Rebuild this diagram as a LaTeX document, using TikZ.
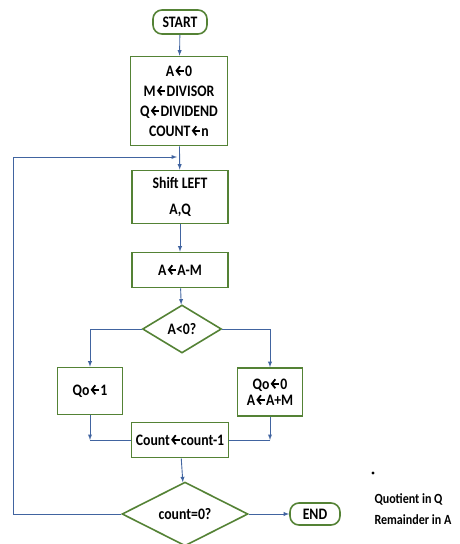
\documentclass[tikz,border=0pt]{standalone}
\usepackage{fontspec}
\setmainfont{Carlito}[FakeStretch=0.86]
\usetikzlibrary{shapes.geometric,arrows.meta}
\definecolor{boxgreen}{RGB}{84,130,53}
\definecolor{flowblue}{RGB}{65,100,160}
\newcommand{\getarrow}{\kern0.3pt\tikz[baseline=-0.75ex]\draw[line width=1.8pt,{Straight Barb[length=3.5pt,width=9pt]}-] (0,0) -- (8.5pt,0);\kern0.3pt}
\begin{document}
\begin{tikzpicture}[x=1pt,y=-1pt,>=latex,
  font=\bfseries\fontsize{16}{19}\selectfont,
  procbox/.style={draw=boxgreen,line width=1.6pt,shape=rectangle,align=center,inner sep=2pt},
  testbox/.style={draw=boxgreen,line width=1.6pt,shape=diamond,inner sep=0pt},
  termbox/.style={draw=boxgreen,line width=1.6pt,rounded corners=9pt,inner sep=2pt},
  flow/.style={flowblue,line width=0.9pt}]
  \useasboundingbox (0,0) rectangle (459,544);
  \node[termbox,minimum width=54pt,minimum height=24pt] (Start) at (180,22) {START};
  \node[procbox,minimum width=97pt,minimum height=89pt] (Init) at (179,101)
    {A\getarrow0\\[1pt]M\getarrow DIVISOR\\[1pt]Q\getarrow DIVIDEND\\[1pt]COUNT\getarrow n};
  \node[procbox,minimum width=96pt,minimum height=53pt] (Shift) at (180,197) {Shift LEFT\\[7pt]A,Q};
  \node[procbox,minimum width=96pt,minimum height=35pt] (Sub) at (180,270) {A\getarrow A-M};
  \node[testbox,minimum width=79pt,minimum height=48pt] (Test) at (182,329) {A<0?};
  \node[procbox,minimum width=65pt,minimum height=47pt] (Qone) at (90,391) {Qo\getarrow 1};
  \node[procbox,minimum width=65pt,minimum height=48pt] (Qzero) at (270,392) {Qo\getarrow 0\\[-3pt]A\getarrow A+M};
  \node[procbox,minimum width=97pt,minimum height=35pt] (Cnt) at (180,440) {Count\getarrow count-1};
  \node[testbox,minimum width=126pt,minimum height=60pt] (Done) at (185,514) {count=0?};
  \node[termbox,minimum width=50pt,minimum height=22pt] (End) at (315,514) {END};
  \node[circle,fill=black,inner sep=1.2pt] (Dot) at (373,473) {};
  \node[anchor=west,align=left,font=\bfseries\fontsize{14}{16}\selectfont] (Note) at (371,509)
    {Quotient in Q\\[5pt]Remainder in A};
  % main line
  \coordinate (Merge) at (177,157);
  \coordinate (LoopL) at (13,157);
  \draw[flow,->] (Start) -- (Init);
  \draw[flow,->] (Init) -- (Shift);
  \draw[flow,->] (Shift) -- (Sub);
  \draw[flow,->] (Sub) -- (Test);
  % branches
  \draw[flow,->] (Test) -| (Qone);
  \draw[flow,->] (Test) -| (Qzero);
  \coordinate (JoinL) at (Qone |- Cnt);
  \coordinate (JoinR) at (Qzero |- Cnt);
  \draw[flow,->] (Qone) -- (JoinL);
  \draw[flow] (JoinL) -- (Cnt);
  \draw[flow,->] (Qzero) -- (JoinR);
  \draw[flow] (JoinR) -- (Cnt);
  \draw[flow,->] (Cnt) -- (Done);
  \draw[flow,->] (Done) -- (End);
  % loop back
  \draw[flow,->] (Done) -| (LoopL) -- (Merge);
\end{tikzpicture}
\end{document}
